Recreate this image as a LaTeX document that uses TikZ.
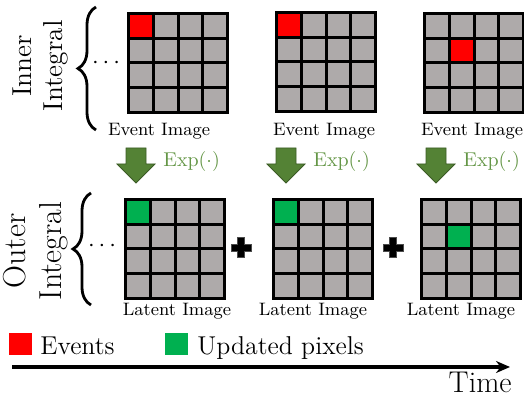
\documentclass[tikz,border=0pt]{standalone}
\usepackage{amsmath}
\usetikzlibrary{
    positioning,
    arrows.meta,
    calc,
    decorations.pathreplacing
}
\definecolor{pixGray}{RGB}{174, 170, 170}
\definecolor{eventRed}{RGB}{255, 0, 0}
\definecolor{updGreen}{RGB}{0, 176, 80}
\definecolor{expGreen}{RGB}{84, 130, 53}
\definecolor{expText}{RGB}{100, 150, 70}

\tikzset{
    gridline/.style={line width=1.5pt, black},
    imglabel/.style={font=\fontsize{9}{11}\selectfont, inner sep=0pt},
    explabel/.style={font=\fontsize{10}{12}\selectfont, text=expText, anchor=west, inner sep=0pt},
    sidelabel/.style={rotate=90, align=center, inner sep=0pt},
    legendtext/.style={font=\fontsize{12.9}{15}\selectfont, anchor=base west, inner sep=0pt},
    bigbrace/.style={decorate, decoration={brace, amplitude=9pt}, line width=1.4pt},
    pics/exparrow/.style={code={
        \filldraw[fill=expGreen, draw=expGreen!70!black, line width=0.4pt]
            (-10,0) -- (10,0) -- (10,16) -- (19,16) -- (0,35) -- (-19,16) -- (-10,16) -- cycle;
    }},
    pics/plussign/.style={code={
        \filldraw[fill=black, draw=gray!60!black, line width=0.5pt]
            (-3.5,-10) -- (3.5,-10) -- (3.5,-3.5) -- (10,-3.5) -- (10,3.5) -- (3.5,3.5)
            -- (3.5,10) -- (-3.5,10) -- (-3.5,3.5) -- (-10,3.5) -- (-10,-3.5) -- (-3.5,-3.5) -- cycle;
    }}
}

% 4x4 pixel grid: corner, colour of the marked pixel, its column and row
\newcommand{\pixgrid}[4]{
    \fill[pixGray] (#1) rectangle ++(99,99);
    \fill[#2] ($(#1)+(#3*24.75,#4*24.75)$) rectangle ++(24.75,24.75);
    \foreach \k in {1,2,3}{
        \draw[gridline] ($(#1)+(\k*24.75,0)$) -- ++(0,99);
        \draw[gridline] ($(#1)+(0,\k*24.75)$) -- ++(99,0);
    }
    \draw[gridline] (#1) rectangle ++(99,99);
}

\begin{document}
\begin{tikzpicture}[x=0.5pt, y=-0.5pt, >=Stealth]
    \useasboundingbox (0,0) rectangle (524,399);

    % Grid corners
    \coordinate (ev1) at (128.5,13.5);
    \coordinate (ev2) at (276.5,12.5);
    \coordinate (ev3) at (424.5,13.5);
    \coordinate (lat1) at (125.5,199.5);
    \coordinate (lat2) at (273.5,199.5);
    \coordinate (lat3) at (421.5,199.5);

    % Event images
    \pixgrid{ev1}{eventRed}{0}{0}
    \pixgrid{ev2}{eventRed}{0}{0}
    \pixgrid{ev3}{eventRed}{1}{1}
    \node[imglabel] (evlab1) at (159,131) {Event Image};
    \node[imglabel] (evlab2) at (324,131) {Event Image};
    \node[imglabel] (evlab3) at (472,131) {Event Image};

    % Latent images
    \pixgrid{lat1}{updGreen}{0}{0}
    \pixgrid{lat2}{updGreen}{0}{0}
    \pixgrid{lat3}{updGreen}{1}{1}
    \node[imglabel] (latlab1) at (177,311) {Latent Image};
    \node[imglabel] (latlab2) at (313,311) {Latent Image};
    \node[imglabel] (latlab3) at (461,311) {Latent Image};

    % Exp arrows
    \pic at (136,148) {exparrow};
    \pic at (286,148) {exparrow};
    \pic at (436,148) {exparrow};
    \node[explabel] (exp1) at (163,162) {$\mathrm{Exp}(\cdot)$};
    \node[explabel] (exp2) at (313,162) {$\mathrm{Exp}(\cdot)$};
    \node[explabel] (exp3) at (463,162) {$\mathrm{Exp}(\cdot)$};

    % Sums
    \pic at (241,248) {plussign};
    \pic at (393,248) {plussign};

    % Braces and side labels
    \draw[bigbrace] (96,130) -- (96,7);
    \draw[bigbrace] (91,305) -- (91,193);
    \node[font=\fontsize{13}{15}\selectfont] (dotsA) at (108,63) {$\cdots$};
    \node[font=\fontsize{13}{15}\selectfont] (dotsB) at (104,246) {$\cdots$};
    \node[sidelabel, font=\fontsize{13.7}{15.5}\selectfont] (inner) at (40,66) {Inner\\Integral};
    \node[sidelabel, font=\fontsize{15.9}{18}\selectfont] (outer) at (36,251) {Outer\\Integral};

    % Legend
    \fill[eventRed] (9,333) rectangle (32,355);
    \node[legendtext] (evkey) at (40,355) {Events};
    \fill[updGreen] (165,333) rectangle (188,355);
    \node[legendtext] (updkey) at (197,355) {Updated pixels};

    % Time axis
    \coordinate (tstart) at (12,367);
    \coordinate (tend) at (510,367);
    \draw[-{Stealth[length=7pt, width=6pt]}, line width=2pt] (tstart) -- (tend);
    \node[font=\fontsize{15}{18}\selectfont, anchor=base east, inner sep=0pt] (time) at (512,393) {Time};
\end{tikzpicture}
\end{document}
